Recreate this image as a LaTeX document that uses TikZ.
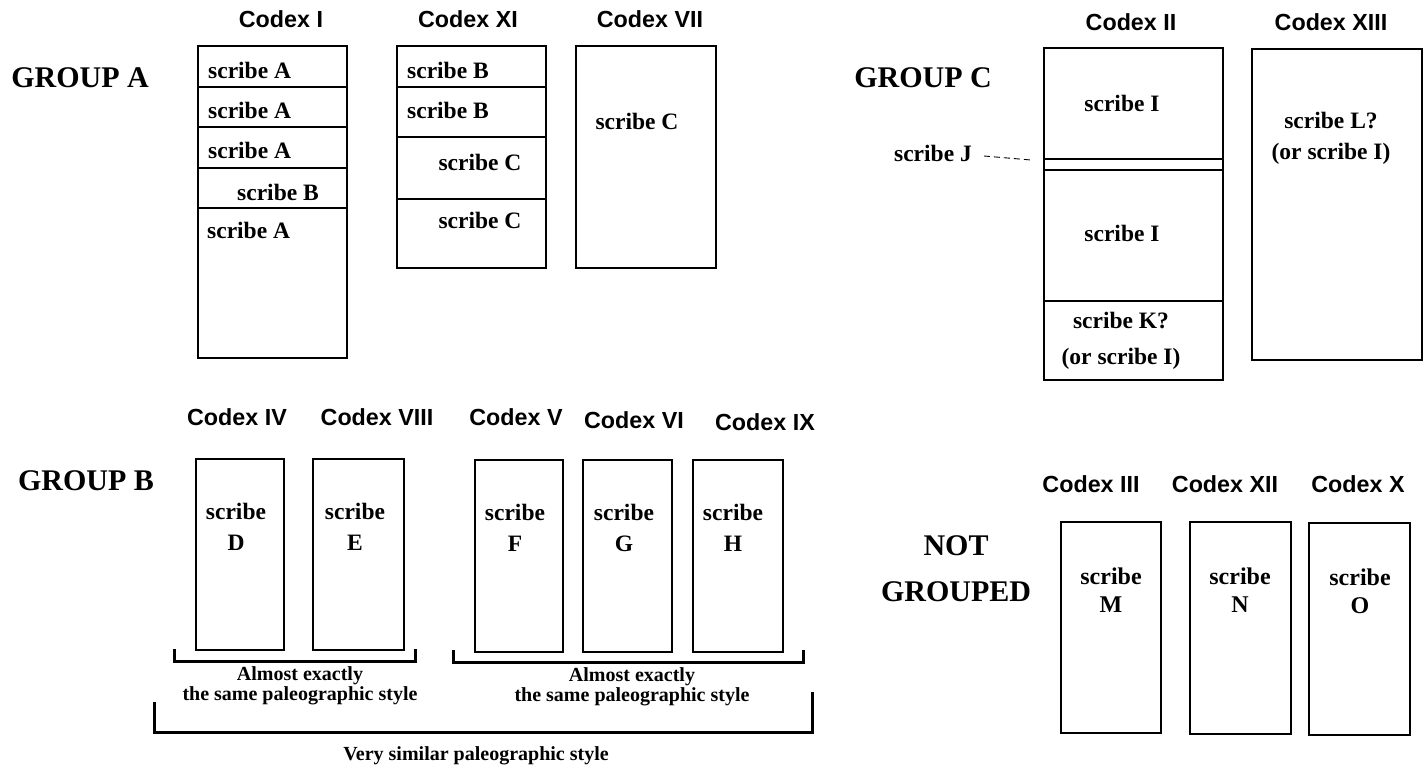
\documentclass[tikz,border=0pt]{standalone}
\usepackage{fontspec}
\setmainfont{Liberation Serif}
\newfontfamily\codexfont{Liberation Sans}

\tikzset{
  codex/.style={inner sep=0pt, font=\codexfont\bfseries\fontsize{23.3}{26}\selectfont},
  scribe/.style={inner sep=0pt, align=center, font=\bfseries\fontsize{23.5}{31}\selectfont},
  group/.style={inner sep=0pt, align=center, font=\bfseries\fontsize{30}{46}\selectfont},
  note/.style={inner sep=0pt, align=center, font=\bfseries\fontsize{20}{20}\selectfont},
  book/.style={line width=1.3pt},
  bracket/.style={line width=3pt}
}

\begin{document}
\begin{tikzpicture}[x=1pt,y=-1pt]
\useasboundingbox (0,0) rectangle (1424,768);

% Group A:
\node[group] (grpA) at (80,78) {GROUP A};

\node[codex] (cI) at (281,19) {Codex I};
\draw[book] (198,46) rectangle (347,358);
\draw[book] (198,87) -- (347,87);
\draw[book] (198,127) -- (347,127);
\draw[book] (198,168) -- (347,168);
\draw[book] (198,208) -- (347,208);
\node[scribe,anchor=west] (sA1) at (208,70) {scribe A};
\node[scribe,anchor=west] (sA2) at (208,110) {scribe A};
\node[scribe,anchor=west] (sA3) at (208,150) {scribe A};
\node[scribe] (sB1) at (278,192) {scribe B};
\node[scribe,anchor=west] (sA4) at (207,230) {scribe A};

\node[codex] (cXI) at (468,19) {Codex XI};
\draw[book] (397,46) rectangle (546,268);
\draw[book] (397,87) -- (546,87);
\draw[book] (397,137) -- (546,137);
\draw[book] (397,199) -- (546,199);
\node[scribe,anchor=west] (sB2) at (407,70) {scribe B};
\node[scribe,anchor=west] (sB3) at (407,110) {scribe B};
\node[scribe] (sC1) at (480,162) {scribe C};
\node[scribe] (sC2) at (480,220) {scribe C};

\node[codex] (cVII) at (650,19) {Codex VII};
\draw[book] (576,46) rectangle (716,268);
\node[scribe] (sC3) at (637,121) {scribe C};

% Group C:
\node[group] (grpC) at (923,78) {GROUP C};

\node[codex] (cII) at (1131,22) {Codex II};
\draw[book] (1044,48) rectangle (1223,380);
\draw[book] (1044,159) -- (1223,159);
\draw[book] (1044,170) -- (1223,170);
\draw[book] (1044,301) -- (1223,301);
\node[scribe] (sI1) at (1122,103) {scribe I};
\node[scribe] (sI2) at (1122,233) {scribe I};
\node[scribe, font=\bfseries\fontsize{23.5}{36}\selectfont] (sK) at (1121,341) {scribe K?\\(or scribe I)};

\node[scribe,anchor=east] (sJ) at (972,153) {scribe J};
\coordinate (jline) at (1031,160);
\draw[line width=0.9pt, dash pattern=on 6pt off 4pt] ([xshift=12pt,yshift=-3pt]sJ.east) -- (jline);

\node[codex] (cXIII) at (1331,22) {Codex XIII};
\draw[book] (1252,49) rectangle (1422,360);
\node[scribe] (sL) at (1331,138) {scribe L?\\(or scribe I)};

% Group B:
\node[group] (grpB) at (86,481) {GROUP B};

\node[codex] (cIV) at (237,417) {Codex IV};
\node[codex] (cVIII) at (377,417) {Codex VIII};
\node[codex] (cV) at (516,417) {Codex V};
\node[codex] (cVI) at (634,420) {Codex VI};
\node[codex] (cIX) at (765,422) {Codex IX};

\draw[book] (196,459) rectangle (284,650);
\draw[book] (313,459) rectangle (404,650);
\draw[book] (475,460) rectangle (563,652);
\draw[book] (583,460) rectangle (672,652);
\draw[book] (693,460) rectangle (783,652);

\node[scribe] (sD) at (236,527) {scribe\\D};
\node[scribe] (sE) at (355,527) {scribe\\E};
\node[scribe] (sF) at (515,528) {scribe\\F};
\node[scribe] (sG) at (624,528) {scribe\\G};
\node[scribe] (sH) at (733,528) {scribe\\H};

\draw[bracket] (174,649) -- (174,661) -- (415,661) -- (415,649);
\draw[bracket] (453,650) -- (453,662) -- (803,662) -- (803,650);
\node[note] (almost1) at (300,686) {Almost exactly\\the same paleographic style};
\node[note] (almost2) at (632,687) {Almost exactly\\the same paleographic style};

\draw[bracket] (154,702) -- (154,732) -- (812,732) -- (812,692);
\node[note] (similar) at (476,756) {Very similar paleographic style};

% Not grouped:
\node[group] (grpN) at (956,569) {NOT\\GROUPED};

\node[codex] (cIII) at (1091,484) {Codex III};
\node[codex] (cXII) at (1225,484) {Codex XII};
\node[codex] (cX) at (1358,484) {Codex X};

\draw[book] (1061,522) rectangle (1161,733);
\draw[book] (1190,522) rectangle (1291,734);
\draw[book] (1309,523) rectangle (1410,735);

\node[scribe, font=\bfseries\fontsize{24}{28}\selectfont] (sM) at (1111,590) {scribe\\M};
\node[scribe, font=\bfseries\fontsize{24}{28}\selectfont] (sN) at (1240,590) {scribe\\N};
\node[scribe, font=\bfseries\fontsize{24}{28}\selectfont] (sO) at (1360,591) {scribe\\O};

\end{tikzpicture}
\end{document}
